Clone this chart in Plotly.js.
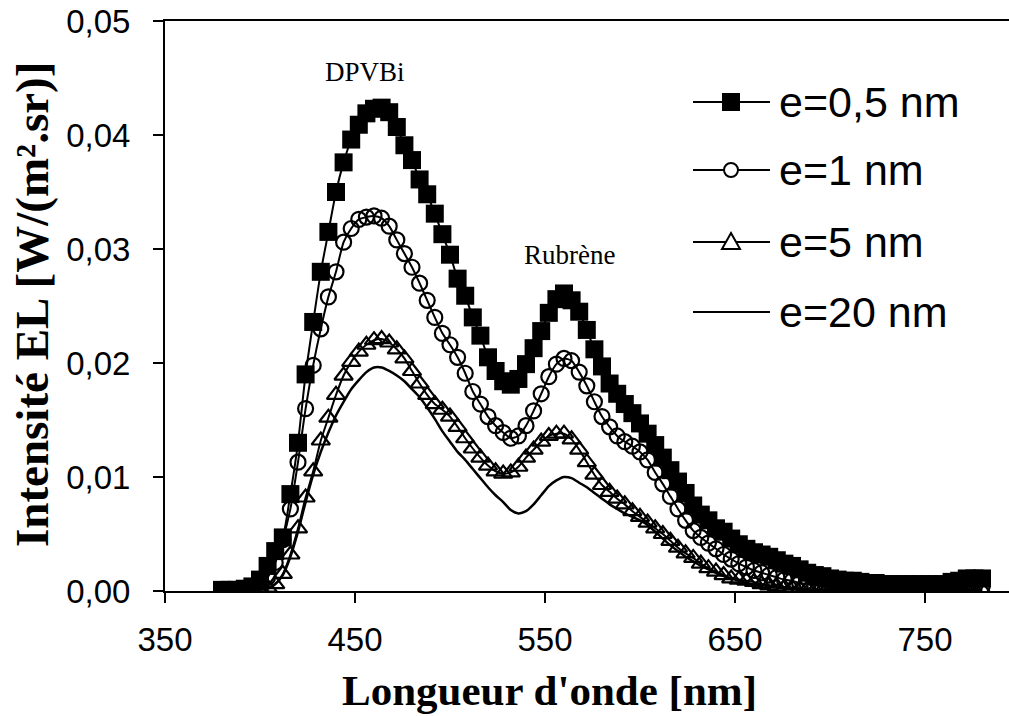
<!DOCTYPE html>
<html>
<head>
<meta charset="utf-8">
<script src="https://cdn.plot.ly/plotly-3.0.1.min.js"></script>
<style>
html,body{margin:0;padding:0;background:#fff;}
#chart{width:1009px;height:716px;}
</style>
</head>
<body>
<div id="chart"></div>
<script>
// Wavelength (nm)
var wavelength = [380,384,388,392,396,400,404,408,412,416,420,424,428,432,436,440,444,448,452,456,460,464,468,472,476,480,484,488,492,496,500,504,508,512,516,520,524,528,532,536,540,544,548,552,556,560,564,568,572,576,580,584,588,592,596,600,604,608,612,616,620,624,628,632,636,640,644,648,652,656,660,664,668,672,676,680,684,688,692,696,700,704,708,712,716,720,724,728,732,736,740,744,748,752,756,760,764,768,772,776,780];

// e = 0,5 nm (filled squares)
var e05 = [0.0001,0.0001,0.0001,0.0002,0.0004,0.0010,0.0022,0.0035,0.0047,0.0085,0.0130,0.0190,0.0236,0.0280,0.0315,0.0350,0.0376,0.0396,0.0409,0.0419,0.0423,0.0424,0.0420,0.0407,0.0391,0.0378,0.0361,0.0348,0.0331,0.0313,0.0295,0.0274,0.0259,0.0240,0.0224,0.0205,0.0193,0.0184,0.0181,0.0186,0.0199,0.0213,0.0228,0.0244,0.0256,0.0261,0.0255,0.0245,0.0229,0.0212,0.0197,0.0182,0.0173,0.0164,0.0156,0.0147,0.0138,0.0128,0.0117,0.0106,0.0096,0.0086,0.0075,0.0067,0.0062,0.0055,0.0052,0.0046,0.0041,0.0037,0.0034,0.0032,0.0030,0.0027,0.0024,0.0022,0.0019,0.0016,0.0014,0.0013,0.0011,0.0010,0.0009,0.0009,0.0008,0.0007,0.0007,0.0006,0.0006,0.0006,0.0006,0.0006,0.0006,0.0006,0.0006,0.0006,0.0008,0.0009,0.0011,0.0011,0.0011];

// e = 1 nm (open circles)
var e1 = [0.0000,0.0000,0.0000,0.0001,0.0002,0.0005,0.0012,0.0025,0.0045,0.0072,0.0113,0.0160,0.0198,0.0230,0.0258,0.0280,0.0306,0.0318,0.0326,0.0328,0.0329,0.0327,0.0320,0.0308,0.0296,0.0284,0.0270,0.0255,0.0240,0.0226,0.0216,0.0205,0.0191,0.0175,0.0164,0.0153,0.0145,0.0139,0.0134,0.0136,0.0145,0.0158,0.0173,0.0188,0.0199,0.0204,0.0202,0.0192,0.0180,0.0166,0.0153,0.0144,0.0136,0.0131,0.0127,0.0122,0.0115,0.0104,0.0094,0.0083,0.0072,0.0062,0.0053,0.0047,0.0042,0.0037,0.0032,0.0028,0.0024,0.0021,0.0018,0.0016,0.0014,0.0012,0.0010,0.0009,0.0007,0.0006,0.0005,0.0004,0.0003,0.0003,0.0002,0.0002,0.0002,0.0001,0.0001,0.0001,0.0001,0.0001,0.0001,0.0001,0.0001,0.0001,0.0001,0.0001,0.0002,0.0003,0.0004,0.0004,0.0004];

// e = 5 nm (open triangles)
var e5 = [0.0000,0.0000,0.0000,0.0000,0.0001,0.0002,0.0003,0.0006,0.0015,0.0032,0.0055,0.0082,0.0105,0.0132,0.0152,0.0172,0.0189,0.0201,0.0210,0.0216,0.0220,0.0221,0.0218,0.0212,0.0204,0.0193,0.0182,0.0172,0.0164,0.0159,0.0153,0.0144,0.0134,0.0125,0.0117,0.0110,0.0105,0.0103,0.0104,0.0109,0.0117,0.0124,0.0131,0.0136,0.0138,0.0138,0.0133,0.0124,0.0113,0.0102,0.0093,0.0087,0.0081,0.0076,0.0070,0.0065,0.0060,0.0055,0.0050,0.0044,0.0038,0.0033,0.0029,0.0024,0.0020,0.0017,0.0014,0.0011,0.0010,0.0009,0.0008,0.0006,0.0005,0.0004,0.0003,0.0003,0.0002,0.0002,0.0001,0.0001,0.0001,0.0001,0.0001,0.0001,0.0001,0.0001,0.0001,0.0001,0.0001,0.0001,0.0001,0.0001,0.0001,0.0001,0.0001,0.0001,0.0001,0.0001,0.0001,0.0001,0.0001];

// e = 20 nm (plain line)
var e20 = [0.0000,0.0000,0.0000,0.0000,0.0000,0.0001,0.0002,0.0006,0.0014,0.0030,0.0052,0.0078,0.0102,0.0122,0.0139,0.0154,0.0166,0.0177,0.0185,0.0192,0.0196,0.0196,0.0193,0.0189,0.0184,0.0177,0.0170,0.0161,0.0151,0.0140,0.0131,0.0122,0.0115,0.0107,0.0099,0.0091,0.0084,0.0078,0.0071,0.0068,0.0070,0.0076,0.0084,0.0092,0.0097,0.0100,0.0099,0.0095,0.0091,0.0086,0.0081,0.0076,0.0072,0.0068,0.0065,0.0062,0.0058,0.0052,0.0046,0.0040,0.0035,0.0030,0.0026,0.0022,0.0019,0.0016,0.0013,0.0011,0.0009,0.0007,0.0006,0.0005,0.0004,0.0003,0.0002,0.0002,0.0001,0.0001,0.0000,0.0000,0.0000,0.0000,0.0000,0.0000,0.0000,0.0000,0.0000,0.0000,0.0000,0.0000,0.0000,0.0000,0.0000,0.0000,0.0000,0.0000,0.0000,0.0000,0.0000,0.0000,0.0000];

var seriesNames = ["e=0,5 nm", "e=1 nm", "e=5 nm", "e=20 nm"];
var xTickVals = [350, 450, 550, 650, 750];
var xTickText = ["350", "450", "550", "650", "750"];
var yTickVals = [0, 0.01, 0.02, 0.03, 0.04, 0.05];
var yTickText = ["0,00", "0,01", "0,02", "0,03", "0,04", "0,05"];
var peakLabels = ["DPVBi", "Rubrène"];
var xTitle = "Longueur d'onde [nm]";
var yTitle = "Intensité EL [W/(m².sr)]";

var W = 1009, H = 716;
var M = {l:165, r:0, t:21, b:125};
var PW = W - M.l - M.r, PH = H - M.t - M.b;
function px(xp){ return (xp - M.l) / PW; }
function py(yp){ return (H - M.b - yp) / PH; }

var sans = "Liberation Sans, Arial, sans-serif";
var serif = "Liberation Serif, Times New Roman, serif";

var traces = [
  {x: wavelength, y: e05, name: seriesNames[0], type: 'scatter', mode: 'lines+markers',
   line: {color: '#000', width: 2, shape: 'spline', smoothing: 0.6},
   marker: {symbol: 'square', size: 18, color: '#000', line: {width: 0}}},
  {x: wavelength, y: e1, name: seriesNames[1], type: 'scatter', mode: 'lines+markers',
   line: {color: '#000', width: 2, shape: 'spline', smoothing: 0.6},
   marker: {symbol: 'circle-open', size: 15, color: '#000', line: {width: 2.2, color: '#000'}}},
  {x: wavelength, y: e5, name: seriesNames[2], type: 'scatter', mode: 'lines+markers',
   line: {color: '#000', width: 2, shape: 'spline', smoothing: 0.6},
   marker: {symbol: 'triangle-up-open', size: 16, color: '#000', line: {width: 2.2, color: '#000'}}},
  {x: wavelength, y: e20, name: seriesNames[3], type: 'scatter', mode: 'lines',
   line: {color: '#000', width: 2.5, shape: 'spline', smoothing: 0.6}}
];

// custom legend (glyphs as shapes, labels as annotations)
var legRows = [102, 170, 242, 312];
var shapes = [], annotations = [];
legRows.forEach(function(r, i){
  var yy = py(r);
  shapes.push({type:'line', xref:'paper', yref:'paper', x0:px(693), x1:px(770), y0:yy, y1:yy,
    line:{color:'#000', width:2}});
  var cx = px(731);
  if (i === 0) {
    shapes.push({type:'rect', xref:'paper', yref:'paper', xsizemode:'pixel', ysizemode:'pixel',
      xanchor:cx, yanchor:yy, x0:-9, x1:9, y0:-9, y1:9, fillcolor:'#000', line:{width:0}});
  } else if (i === 1) {
    shapes.push({type:'circle', xref:'paper', yref:'paper', xsizemode:'pixel', ysizemode:'pixel',
      xanchor:cx, yanchor:yy, x0:-7, x1:7, y0:-7, y1:7, fillcolor:'#fff', line:{color:'#000', width:2}});
  } else if (i === 2) {
    shapes.push({type:'path', xref:'paper', yref:'paper', xsizemode:'pixel', ysizemode:'pixel',
      xanchor:cx, yanchor:yy, path:'M-9,-7L9,-7L0,9Z', fillcolor:'#fff', line:{color:'#000', width:2}});
  }
  annotations.push({xref:'paper', yref:'paper', x:px(777), y:yy, xanchor:'left', yanchor:'middle',
    text: seriesNames[i], showarrow:false, font:{family:sans, size:43, color:'#000'}});
});

annotations.push({xref:'paper', yref:'paper', x:px(365), y:py(72), xanchor:'center', yanchor:'middle',
  text: peakLabels[0], showarrow:false, font:{family:serif, size:27, color:'#000'}});
annotations.push({xref:'paper', yref:'paper', x:px(569), y:py(255), xanchor:'center', yanchor:'middle',
  text: peakLabels[1], showarrow:false, font:{family:serif, size:27, color:'#000'}});
annotations.push({xref:'paper', yref:'paper', x:px(549), y:py(690), xanchor:'center', yanchor:'middle',
  text: '<b>' + xTitle + '</b>', showarrow:false, font:{family:serif, size:43, color:'#000'}});
annotations.push({xref:'paper', yref:'paper', x:px(32), y:py(305), xanchor:'center', yanchor:'middle',
  textangle:-90, text: '<b>' + yTitle + '</b>', showarrow:false, font:{family:serif, size:47, color:'#000'}});

var layout = {
  width: W, height: H,
  margin: M,
  paper_bgcolor: '#fff', plot_bgcolor: '#fff',
  showlegend: false,
  xaxis: {range: [350, 350 + PW / 1.9], tickvals: xTickVals, ticktext: xTickText,
    showgrid: false, zeroline: false, showline: true, mirror: true, linecolor: '#000', linewidth: 2,
    ticks: 'outside', ticklen: 10, tickwidth: 1.5, tickcolor: '#000', ticklabelstandoff: 8,
    tickfont: {family: sans, size: 33, color: '#000'}},
  yaxis: {range: [0, 0.05], tickvals: yTickVals, ticktext: yTickText,
    showgrid: false, zeroline: false, showline: true, linecolor: '#000', linewidth: 2,
    ticks: 'outside', ticklen: 10, tickwidth: 1.5, tickcolor: '#000', ticklabelstandoff: 16,
    tickfont: {family: sans, size: 33, color: '#000'}},
  shapes: shapes,
  annotations: annotations
};

Plotly.newPlot('chart', traces, layout, {staticPlot: true, displayModeBar: false});
</script>
</body>
</html>
